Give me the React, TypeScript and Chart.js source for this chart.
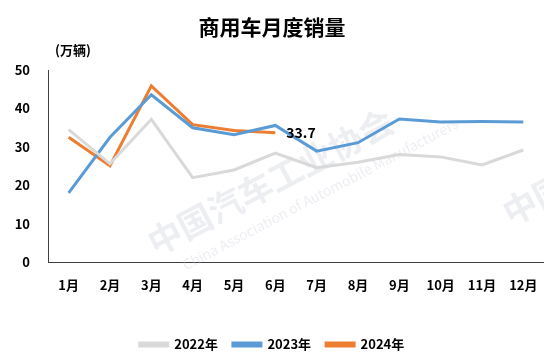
import React, { useEffect, useRef } from "react";
import { Chart, registerables } from "chart.js";
Chart.register(...registerables);

const months = ["1月", "2月", "3月", "4月", "5月", "6月", "7月", "8月", "9月", "10月", "11月", "12月"];
const sales2022 = [34.5, 25.6, 37.2, 22.0, 24.0, 28.4, 24.6, 26.0, 28.0, 27.4, 25.3, 29.2];
const sales2023 = [18.0, 32.5, 43.6, 35.0, 33.2, 35.6, 28.9, 31.1, 37.3, 36.5, 36.6, 36.5];
const sales2024 = [32.5, 25.1, 45.9, 35.8, 34.3, 33.7];
const seriesNames = ["2022年", "2023年", "2024年"];
const seriesColors = ["#d9d9d9", "#5b9bd5", "#ed7d31"];
const titleText = "商用车月度销量";
const unitText = "(万辆)";
const watermarkCn = "中国汽车工业协会";
const watermarkEn = "China Association of Automobile Manufacturers";

const FONT = "'Noto Sans CJK SC', 'Noto Sans', sans-serif";

const overlayPlugin = {
  id: "overlay",
  beforeDatasetsDraw(chart: any) {
    const ctx = chart.ctx;
    ctx.save();
    ctx.fillStyle = "rgba(200,206,218,0.35)";
    ctx.translate(150, 245);
    ctx.rotate(-Math.PI / 6.5);
    ctx.font = `bold 34px ${FONT}`;
    ctx.textBaseline = "middle";
    ctx.fillText(watermarkCn, 0, 0);
    ctx.font = `14px ${FONT}`;
    ctx.fillText(watermarkEn, 20, 34);
    ctx.restore();
    ctx.save();
    ctx.fillStyle = "rgba(200,206,218,0.35)";
    ctx.translate(505, 215);
    ctx.rotate(-Math.PI / 6.5);
    ctx.font = `bold 34px ${FONT}`;
    ctx.textBaseline = "middle";
    ctx.fillText(watermarkCn, 0, 0);
    ctx.restore();
  },
  afterDraw(chart: any) {
    const ctx = chart.ctx;
    ctx.save();
    ctx.fillStyle = "#000";
    ctx.font = `bold 13px ${FONT}`;
    ctx.textBaseline = "middle";
    ctx.textAlign = "left";
    ctx.fillText(unitText, 55, 50);
    const meta = chart.getDatasetMeta(2);
    const pt = meta.data[meta.data.length - 1];
    ctx.font = `bold 14px ${FONT}`;
    ctx.fillText(String(sales2024[sales2024.length - 1]), pt.x + 11, pt.y);
    ctx.restore();
  },
};

export default function App() {
  const ref = useRef<HTMLCanvasElement>(null);
  useEffect(() => {
    const data = [sales2022, sales2023, sales2024];
    const chart = new Chart(ref.current!, {
      type: "line",
      data: {
        labels: months,
        datasets: seriesNames.map((n, i) => ({
          label: n,
          data: data[i],
          borderColor: seriesColors[i],
          backgroundColor: seriesColors[i],
          borderWidth: 3,
          pointRadius: 0,
          tension: 0,
        })),
      },
      options: {
        animation: false,
        responsive: false,
        layout: { padding: { left: 0, right: 0, top: 0, bottom: -6 } },
        plugins: {
          title: {
            display: true,
            text: titleText,
            color: "#000",
            font: { family: FONT, size: 21, weight: "bold" },
            padding: { top: 14, bottom: 31 },
          },
          legend: {
            position: "bottom",
            labels: {
              color: "#000",
              boxWidth: 28,
              boxHeight: 3,
              padding: 15,
              font: { family: FONT, size: 13, weight: "bold" },
            },
          },
          tooltip: { enabled: false },
        },
        scales: {
          x: {
            offset: true,
            grid: { display: false, drawTicks: false },
            border: { display: true, color: "#404040", width: 1 },
            ticks: { color: "#000", padding: 15, maxRotation: 0, font: { family: FONT, size: 13, weight: "bold" } },
            afterFit(s: any) { s.height = 61; s.paddingLeft = 0; s.paddingRight = 0; },
          },
          y: {
            min: 0,
            max: 50,
            grid: { display: false, drawTicks: false },
            border: { display: true, color: "#404040", width: 1 },
            ticks: { stepSize: 10, color: "#000", padding: 18, font: { family: FONT, size: 13, weight: "bold" } },
            afterFit(s: any) { s.width = 48; s.paddingTop = 0; s.paddingBottom = 0; },
          },
        },
      },
      plugins: [overlayPlugin],
    } as any);
    return () => chart.destroy();
  }, []);
  return (
    <div style={{ position: "fixed", left: 0, top: 0, width: 544, height: 355, background: "#fff" }}>
      <canvas ref={ref} width={544} height={355} />
    </div>
  );
}
